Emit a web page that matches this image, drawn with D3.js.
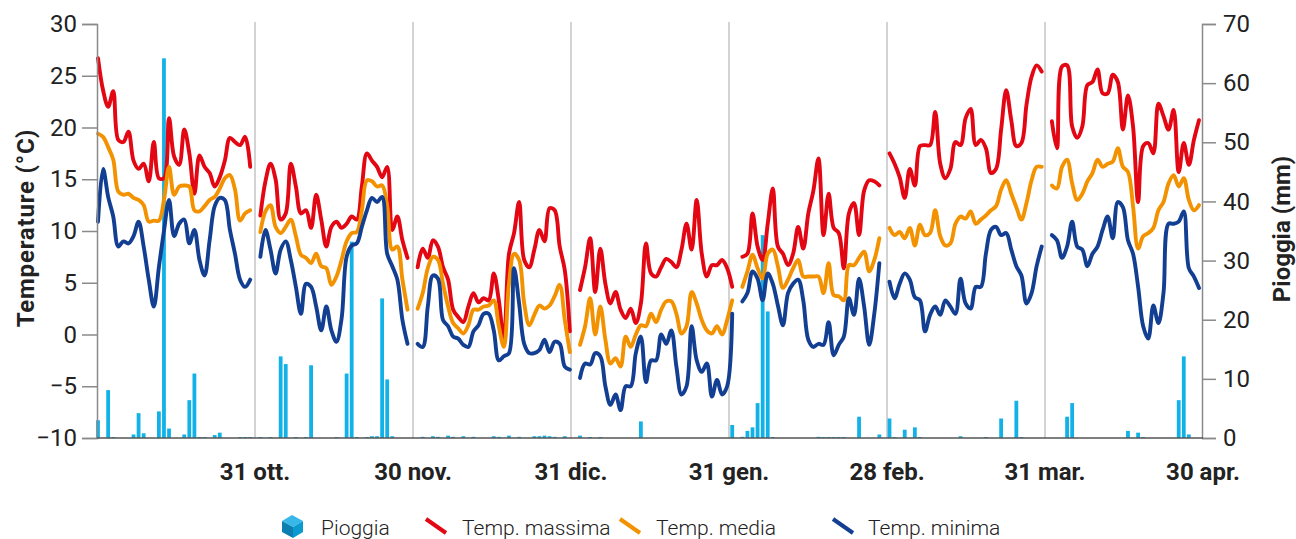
<!DOCTYPE html>
<html>
<head>
<meta charset="utf-8">
<script src="https://cdnjs.cloudflare.com/ajax/libs/d3/7.8.5/d3.min.js"></script>
<style>
  body { margin: 0; background: #fff; }
  svg text { font-family: Roboto, "Open Sans", sans-serif; fill: #222; }
</style>
</head>
<body>
<svg id="chart" width="1296" height="539"></svg>
<script>
// months of the season, Oct -> Apr
var months = ["ott", "nov", "dic", "gen", "feb", "mar", "apr"];
var monthDays = [31, 30, 31, 31, 28, 31, 30];
var tickLabels = ["31 ott.", "30 nov.", "31 dic.", "31 gen.", "28 feb.", "31 mar.", "30 apr."];
var tempTicks = [-10, -5, 0, 5, 10, 15, 20, 25, 30];
var rainTicks = [0, 10, 20, 30, 40, 50, 60, 70];

// daily values, one line per month
var tempMax = [
  26.7, 23.6, 22.0, 23.5, 18.8, 18.6, 19.6, 16.8, 16.0, 16.5, 14.8, 18.6, 15.1, 15.1, 20.9, 17.2, 16.4, 19.8, 17.5, 13.6, 17.3, 16.2, 15.6, 14.3, 15.2, 16.8, 19.0, 18.6, 18.3, 19.1, 16.2,
  11.5, 14.8, 16.5, 15.0, 11.1, 11.7, 16.5, 14.3, 11.7, 12.0, 10.3, 13.5, 11.1, 8.5, 10.4, 10.9, 10.3, 10.7, 11.4, 11.1, 14.3, 17.5, 16.8, 16.2, 15.2, 16.2, 10.1, 11.4, 9.1, 7.4,
  6.5, 8.3, 7.4, 9.1, 8.5, 6.5, 5.3, 2.4, 1.7, 1.2, 2.7, 4.0, 3.1, 3.5, 3.3, 5.9, 3.3, -0.5, 7.8, 9.8, 12.8, 7.2, 6.5, 8.2, 10.1, 9.0, 12.2, 12.0, 8.5, 6.2, 0.3,
  4.3, 6.5, 9.3, 4.1, 8.3, 4.9, 3.0, 4.1, 2.4, 1.6, 2.5, 1.1, 3.0, 8.8, 5.9, 5.6, 6.5, 7.3, 7.0, 6.5, 8.2, 10.7, 8.2, 13.0, 7.8, 5.6, 6.7, 6.7, 7.2, 6.4, 4.6,
  7.5, 7.8, 11.7, 8.5, 7.2, 10.7, 14.1, 8.5, 7.8, 6.7, 7.8, 10.4, 8.3, 11.7, 13.9, 17.0, 9.6, 13.6, 10.3, 9.8, 6.4, 11.7, 12.7, 9.6, 13.9, 14.9, 14.8, 14.4,
  17.5, 16.5, 15.2, 13.2, 16.0, 14.4, 18.2, 18.3, 18.3, 21.5, 16.5, 15.1, 16.0, 18.6, 18.3, 20.9, 21.8, 18.3, 18.8, 18.0, 15.6, 16.0, 19.8, 23.6, 20.7, 18.2, 18.5, 22.2, 24.9, 26.0, 25.4,
  20.6, 18.0, 25.9, 26.0, 20.1, 19.0, 20.1, 24.1, 24.4, 25.6, 23.3, 23.3, 25.1, 24.4, 19.8, 23.1, 20.1, 12.8, 18.2, 18.5, 17.5, 22.3, 21.1, 19.8, 21.7, 15.7, 18.5, 16.4, 18.8, 20.7
];
var tempMean = [
  19.4, 19.1, 18.1, 16.9, 13.8, 13.5, 13.6, 13.2, 13.0, 12.5, 10.9, 11.0, 11.0, 13.0, 16.2, 13.5, 14.3, 14.4, 14.3, 12.0, 11.9, 12.4, 13.0, 13.3, 14.1, 15.1, 15.4, 14.0, 11.0, 11.7, 12.0,
  9.9, 11.9, 12.5, 10.4, 9.8, 10.4, 11.1, 9.5, 7.7, 7.4, 6.9, 7.8, 6.6, 6.4, 4.8, 5.6, 7.2, 9.0, 9.8, 9.9, 12.0, 14.9, 14.8, 14.3, 14.4, 12.4, 8.2, 8.5, 5.3, 2.4,
  2.5, 4.0, 6.4, 7.5, 7.2, 4.9, 2.7, 1.1, 0.6, 0.1, 0.9, 2.4, 2.4, 2.7, 2.8, 3.3, 0.8, -1.2, 4.9, 7.8, 7.2, 3.0, 0.9, 1.9, 2.8, 2.5, 2.8, 3.7, 4.8, 1.4, -1.7,
  -1.0, 0.8, 3.5, 0.0, 2.7, -0.5, -2.8, -2.3, -3.1, -0.2, -1.2, 0.0, 0.9, 0.8, 2.0, 1.2, 2.4, 3.2, 3.2, 2.0, 0.1, 0.8, 4.1, 3.0, 1.4, 0.4, 0.1, 0.8, 0.0, 1.4, 3.3,
  4.6, 6.1, 7.7, 6.4, 5.4, 7.8, 8.2, 6.6, 4.5, 5.3, 6.4, 7.2, 5.6, 5.6, 5.6, 5.6, 4.0, 6.9, 3.8, 3.7, 3.3, 6.7, 6.7, 7.4, 8.0, 6.1, 7.2, 9.3,
  10.3, 9.6, 9.9, 9.3, 10.3, 8.6, 10.6, 9.6, 9.8, 12.0, 9.5, 8.6, 8.8, 10.7, 11.4, 11.2, 11.9, 10.7, 11.1, 11.5, 12.0, 12.4, 14.0, 14.9, 13.6, 12.3, 11.1, 12.7, 14.9, 16.2, 16.2,
  14.4, 14.1, 16.2, 16.9, 14.6, 13.0, 13.6, 14.8, 15.6, 16.9, 16.2, 16.5, 16.7, 18.0, 16.2, 15.7, 12.4, 8.3, 9.5, 9.8, 10.3, 12.0, 12.8, 14.6, 15.4, 14.3, 15.1, 13.0, 12.0, 12.5
];
var tempMin = [
  10.9, 16.0, 13.3, 11.4, 8.5, 9.0, 8.8, 9.5, 10.9, 8.5, 5.3, 2.7, 6.5, 10.0, 13.0, 9.5, 10.7, 11.1, 8.8, 10.1, 7.2, 5.7, 9.1, 12.4, 13.2, 13.0, 10.1, 7.8, 5.3, 4.6, 5.3,
  7.5, 10.1, 8.2, 5.9, 8.2, 9.0, 7.2, 4.6, 2.0, 4.9, 4.6, 2.7, 0.4, 2.7, 0.4, -0.7, 1.5, 7.5, 8.6, 8.8, 10.4, 12.0, 13.2, 12.8, 13.3, 7.8, 6.6, 5.3, 1.4, -0.9,
  -0.9, -1.2, 2.7, 5.7, 5.4, 1.4, 0.8, -0.2, -0.4, -1.0, -1.2, 0.3, 0.9, 2.0, 2.0, 0.4, -2.5, -2.1, -1.8, 6.4, 3.0, -0.9, -1.8, -1.8, -1.5, -0.5, -1.7, -0.7, -0.9, -3.1, -3.4,
  -4.2, -2.8, -2.9, -1.8, -2.1, -5.0, -6.8, -5.8, -7.3, -5.0, -5.0, -1.8, -0.2, -4.6, -2.5, -2.5, 0.0, -0.9, 0.4, -3.1, -5.8, -5.0, 0.8, -2.5, -3.6, -2.8, -6.0, -4.4, -5.8, -5.0, 2.0,
  3.2, 4.0, 6.1, 5.4, 3.3, 5.9, 4.9, 2.8, 0.9, 4.0, 4.9, 5.3, 3.3, -0.5, -1.2, -0.9, -1.0, 1.2, -2.0, -1.0, -0.2, 3.5, 1.9, 5.4, 2.7, -1.0, 2.0, 6.9,
  5.1, 3.5, 4.9, 5.9, 5.3, 3.6, 3.3, 0.3, 1.9, 2.7, 1.9, 3.3, 2.7, 2.0, 5.4, 3.0, 2.5, 4.6, 4.6, 7.8, 10.1, 10.4, 9.6, 9.8, 8.2, 6.6, 5.7, 3.0, 4.0, 6.6, 8.5,
  9.6, 9.1, 7.4, 8.5, 10.9, 8.5, 8.2, 6.6, 7.8, 8.5, 10.1, 11.4, 9.3, 12.8, 12.3, 9.1, 7.8, 4.6, 0.8, -0.4, 2.8, 1.1, 4.0, 10.7, 10.7, 10.9, 11.9, 6.4, 5.6, 4.5
];
var rain = [
  3.0, 0, 8.1, 0.1, 0, 0, 0, 0.6, 4.2, 0.8, 0, 0, 4.5, 64.2, 1.6, 0, 0, 0.6, 6.4, 10.9, 0.1, 0.1, 0, 0.5, 0.9, 0, 0, 0, 0.1, 0.1, 0.1,
  0.1, 0, 0.1, 0, 13.8, 12.5, 0, 0.1, 0, 0.1, 12.3, 0, 0, 0, 0, 0.1, 0, 10.9, 33.2, 0.1, 0, 0.1, 0.3, 0.3, 23.6, 9.9, 0.3, 0, 0, 0,
  0, 0.2, 0, 0.3, 0.2, 0, 0.4, 0.2, 0, 0.3, 0, 0.2, 0, 0, 0, 0.3, 0.2, 0, 0.4, 0, 0.2, 0, 0, 0.3, 0.3, 0.4, 0.3, 0.2, 0, 0.3, 0,
  0.4, 0, 0.1, 0, 0.1, 0, 0, 0, 0, 0, 0, 0, 2.8, 0, 0, 0, 0, 0, 0, 0, 0, 0, 0, 0, 0, 0, 0, 0, 0, 0, 2.2,
  0.2, 1.2, 1.8, 5.9, 34.3, 21.4, 0.1, 0, 0, 0, 0, 0, 0, 0, 0, 0.2, 0.1, 0.1, 0.1, 0.1, 0.1, 0, 0, 3.6, 0, 0, 0, 0.6,
  3.3, 0.1, 0, 1.4, 0, 1.8, 0.1, 0, 0, 0, 0, 0, 0, 0, 0.3, 0, 0, 0, 0, 0.1, 0, 0, 3.3, 0, 0, 6.3, 0.1, 0, 0, 0, 0,
  0, 0, 0, 3.6, 5.9, 0, 0, 0, 0, 0, 0, 0, 0, 0, 0, 1.2, 0, 0.9, 0.1, 0, 0, 0, 0, 0, 0, 6.4, 13.8, 0.6, 0, 0
];

var colors = { rain: "#12b2e8", max: "#e30613", mean: "#f39200", min: "#133f93" };

var svg = d3.select("#chart");
var plotLeft = 97, plotRight = 1203, plotTop = 24, plotBottom = 438;

// each month leaves one empty day slot before the next one
var days = [];
var slot = 0, k = 0;
monthDays.forEach(function(n, m) {
  for (var d = 0; d < n; d++) {
    days.push({ month: m, slot: slot, max: tempMax[k], mean: tempMean[k], min: tempMin[k], rain: rain[k] });
    slot++; k++;
  }
  slot++;
});

var x = d3.scaleLinear().domain([0, slot - 2]).range([98, 1199]);
var yT = d3.scaleLinear().domain([-10, 30]).range([plotBottom, plotTop]);
var yR = d3.scaleLinear().domain([0, 70]).range([plotBottom, plotTop]);
var sep = d3.scaleLinear().domain([0, 7]).range([plotLeft, plotRight]);

// vertical month separators
svg.append("g").selectAll("line")
  .data(d3.range(1, 7))
  .enter().append("line")
    .attr("x1", function(i) { return sep(i); })
    .attr("x2", function(i) { return sep(i); })
    .attr("y1", plotTop - 2).attr("y2", plotBottom)
    .attr("stroke", "#c4c4c4").attr("stroke-width", 1.5);

// rain bars
svg.append("g").selectAll("rect")
  .data(days.filter(function(d) { return d.rain > 0; }))
  .enter().append("rect")
    .attr("x", function(d) { return x(d.slot) - 1.9; })
    .attr("width", 3.8)
    .attr("y", function(d) { return Math.min(yR(d.rain), plotBottom - 1); })
    .attr("height", function(d) { return Math.max(plotBottom - yR(d.rain), 1); })
    .attr("fill", colors.rain);

// temperature lines, one path per month
var series = [["max", colors.max], ["mean", colors.mean], ["min", colors.min]];
series.forEach(function(s) {
  var line = d3.line()
    .x(function(d) { return x(d.slot); })
    .y(function(d) { return yT(d[s[0]]); })
    .curve(d3.curveCatmullRom.alpha(0.5));
  svg.append("g").selectAll("path")
    .data(d3.range(7).map(function(m) { return days.filter(function(d) { return d.month === m; }); }))
    .enter().append("path")
      .attr("d", line)
      .attr("fill", "none")
      .attr("stroke", s[1])
      .attr("stroke-width", 3.9)
      .attr("stroke-linejoin", "round")
      .attr("stroke-linecap", "round");
});

// axes
var axL = svg.append("g").attr("transform", "translate(" + plotLeft + ",0)")
  .call(d3.axisLeft(yT).tickValues(tempTicks).tickSize(15).tickPadding(5)
    .tickFormat(function(d) { return d < 0 ? "\u2212" + Math.abs(d) : d; }));
var axR = svg.append("g").attr("transform", "translate(" + (plotRight - 1) + ",0)")
  .call(d3.axisRight(yR).tickValues(rainTicks).tickSize(14).tickPadding(7));
[axL, axR].forEach(function(a) {
  a.select(".domain").attr("stroke", "#8a8a8a").attr("stroke-width", 1.5);
  a.selectAll(".tick line").attr("stroke", "#8a8a8a").attr("stroke-width", 1.5);
  a.selectAll(".tick text").style("font-size", "24px").style("font-weight", 400).attr("fill", "#222");
});

svg.append("line")
  .attr("x1", plotLeft).attr("x2", plotRight).attr("y1", plotBottom).attr("y2", plotBottom)
  .attr("stroke", "#555").attr("stroke-width", 1.6);

svg.append("g").selectAll("text")
  .data(tickLabels)
  .enter().append("text")
    .attr("x", function(d, i) { return sep(i + 1); })
    .attr("y", 480)
    .attr("text-anchor", "middle")
    .style("font-size", "24px").style("font-weight", 700)
    .text(function(d) { return d; });

svg.append("text")
  .attr("transform", "translate(34,228) rotate(-90)")
  .attr("text-anchor", "middle")
  .style("font-size", "24px").style("font-weight", 700).style("letter-spacing", "0.8px")
  .text("Temperature (\u00b0C)");

svg.append("text")
  .attr("transform", "translate(1290,229) rotate(-90)")
  .attr("text-anchor", "middle")
  .style("font-size", "24px").style("font-weight", 700)
  .text("Pioggia (mm)");

// legend
var lg = svg.append("g");
lg.append("path").attr("d", "M282,521 L292,515 L303,521 L293,527 Z").attr("fill", "#37b8e8");
lg.append("path").attr("d", "M282,521 L293,527 L293,538 L282,532 Z").attr("fill", "#0c7fb0");
lg.append("path").attr("d", "M293,527 L303,521 L303,532 L293,538 Z").attr("fill", "#0a9ad0");
lg.append("text").attr("x", 321).attr("y", 535).style("font-size", "21px").style("font-weight", 300).text("Pioggia");

var legendLines = [
  { x: 425, tx: 462, c: colors.max, label: "Temp. massima" },
  { x: 619, tx: 656, c: colors.mean, label: "Temp. media" },
  { x: 832, tx: 868, c: colors.min, label: "Temp. minima" }
];
legendLines.forEach(function(l) {
  lg.append("line")
    .attr("x1", l.x + 1).attr("y1", 519).attr("x2", l.x + 21).attr("y2", 533)
    .attr("stroke", l.c).attr("stroke-width", 4);
  lg.append("text").attr("x", l.tx).attr("y", 535)
    .style("font-size", "21px").style("font-weight", 300).text(l.label);
});
</script>
</body>
</html>
